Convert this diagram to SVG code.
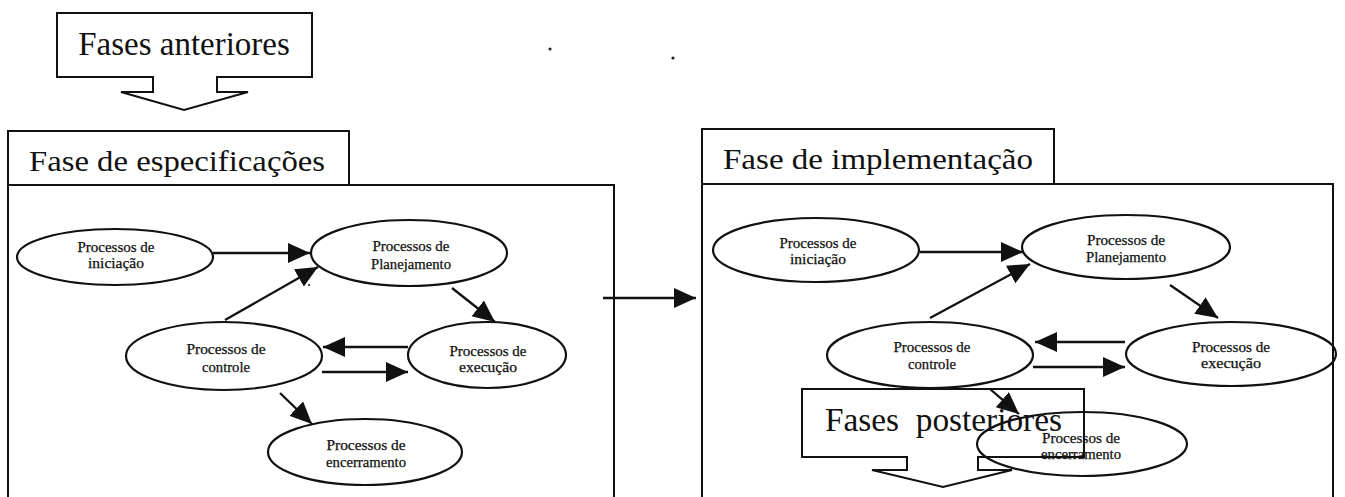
<svg xmlns="http://www.w3.org/2000/svg" width="1345" height="497" viewBox="0 0 1345 497">
  <style>
    .frame { fill: none; stroke: #111; stroke-width: 2; stroke-linejoin: miter; }
    .node ellipse { fill: none; stroke: #111; stroke-width: 2.2; }
    .lbl { font-family: "Liberation Serif", "Times New Roman", serif; font-size: 14px; fill: #111; text-anchor: middle; stroke: #111; stroke-width: 0.25; }
    .title { font-family: "Liberation Serif", "Times New Roman", serif; fill: #111; }
    .conn line { stroke: #111; stroke-width: 2.3; marker-end: url(#ah); }
  </style>
  <defs>
    <marker id="ah" markerUnits="userSpaceOnUse" markerWidth="24" markerHeight="22" refX="22" refY="10" orient="auto">
      <path d="M0,0 L22,10 L0,20 Z" fill="#111"/>
    </marker>
  </defs>

  <rect width="1345" height="497" fill="#fff"/>

  <!-- specks on the page -->
  <circle cx="550" cy="49" r="1.6" fill="#222"/>
  <circle cx="673" cy="58" r="1.6" fill="#222"/>
  <circle cx="309" cy="285" r="1.1" fill="#222"/>

  <!-- incoming block arrow -->
  <g id="fases-anteriores">
    <path class="frame" d="M153,77 L57,77 L57,13 L312,13 L312,77 L217,77 L217,92 L248,92 L184,110 L121,92 L153,92 Z"/>
    <text class="title" x="184" y="55" font-size="33" text-anchor="middle">Fases anteriores</text>
  </g>

  <!-- specification phase frame -->
  <g id="fase-especificacoes">
    <path class="frame" d="M8,497 L8,131 L349,131 L349,185"/>
    <path class="frame" d="M8,185 L614,185 L614,497"/>
    <text class="title" x="29" y="171" font-size="29" textLength="296" lengthAdjust="spacingAndGlyphs">Fase de especificações</text>
  </g>

  <!-- implementation phase frame -->
  <g id="fase-implementacao">
    <path class="frame" d="M702,497 L702,129 L1054,129 L1054,184"/>
    <path class="frame" d="M702,184 L1333,184 L1333,497"/>
    <text class="title" x="723" y="169" font-size="29" textLength="310" lengthAdjust="spacingAndGlyphs">Fase de implementação</text>
  </g>

  <!-- left process group -->
  <g id="e-iniciacao" class="node">
    <ellipse cx="115" cy="257" rx="98" ry="28"/>
    <text class="lbl" x="116" y="252" textLength="77" lengthAdjust="spacingAndGlyphs">Processos de</text>
    <text class="lbl" x="116" y="268" textLength="56" lengthAdjust="spacingAndGlyphs">iniciação</text>
  </g>
  <g id="e-planejamento" class="node">
    <ellipse cx="409" cy="253" rx="98" ry="33"/>
    <text class="lbl" x="411" y="251" textLength="77" lengthAdjust="spacingAndGlyphs">Processos de</text>
    <text class="lbl" x="411" y="269" textLength="80" lengthAdjust="spacingAndGlyphs">Planejamento</text>
  </g>
  <g id="e-controle" class="node">
    <ellipse cx="224" cy="356" rx="98" ry="34"/>
    <text class="lbl" x="226" y="354" textLength="79" lengthAdjust="spacingAndGlyphs">Processos de</text>
    <text class="lbl" x="226" y="372" textLength="48" lengthAdjust="spacingAndGlyphs">controle</text>
  </g>
  <g id="e-execucao" class="node">
    <ellipse cx="487" cy="355" rx="79" ry="33"/>
    <text class="lbl" x="488" y="356" textLength="77" lengthAdjust="spacingAndGlyphs">Processos de</text>
    <text class="lbl" x="488" y="372" textLength="58" lengthAdjust="spacingAndGlyphs">execução</text>
  </g>
  <g id="e-encerramento" class="node">
    <ellipse cx="365" cy="452" rx="97" ry="33"/>
    <text class="lbl" x="366" y="450" textLength="79" lengthAdjust="spacingAndGlyphs">Processos de</text>
    <text class="lbl" x="366" y="467" textLength="80" lengthAdjust="spacingAndGlyphs">encerramento</text>
  </g>

  <!-- right process group -->
  <g id="d-iniciacao" class="node">
    <ellipse cx="816" cy="250" rx="103" ry="32"/>
    <text class="lbl" x="818" y="248" textLength="77" lengthAdjust="spacingAndGlyphs">Processos de</text>
    <text class="lbl" x="818" y="264" textLength="56" lengthAdjust="spacingAndGlyphs">iniciação</text>
  </g>
  <g id="d-planejamento" class="node">
    <ellipse cx="1126" cy="247" rx="104" ry="32"/>
    <text class="lbl" x="1126" y="245" textLength="78" lengthAdjust="spacingAndGlyphs">Processos de</text>
    <text class="lbl" x="1126" y="262" textLength="80" lengthAdjust="spacingAndGlyphs">Planejamento</text>
  </g>
  <g id="d-controle" class="node">
    <ellipse cx="930" cy="355" rx="103" ry="33"/>
    <text class="lbl" x="932" y="352" textLength="77" lengthAdjust="spacingAndGlyphs">Processos de</text>
    <text class="lbl" x="932" y="369" textLength="48" lengthAdjust="spacingAndGlyphs">controle</text>
  </g>
  <g id="d-execucao" class="node">
    <ellipse cx="1231" cy="354" rx="105" ry="32"/>
    <text class="lbl" x="1231" y="352" textLength="78" lengthAdjust="spacingAndGlyphs">Processos de</text>
    <text class="lbl" x="1231" y="368" textLength="60" lengthAdjust="spacingAndGlyphs">execução</text>
  </g>
  <g id="d-encerramento" class="node">
    <ellipse cx="1082" cy="444" rx="105" ry="32"/>
    <text class="lbl" x="1081" y="443" textLength="78" lengthAdjust="spacingAndGlyphs">Processos de</text>
    <text class="lbl" x="1081" y="459" textLength="80" lengthAdjust="spacingAndGlyphs">encerramento</text>
  </g>

  <!-- outgoing block arrow -->
  <g id="fases-posteriores">
    <path class="frame" d="M907,457 L802,457 L802,389 L1084,389 L1084,457 L978,457 L978,470 L1012,470 L943,487 L872,470 L907,470 Z"/>
    <text class="title" x="825" y="431" font-size="33" textLength="237" lengthAdjust="spacingAndGlyphs" style="white-space:pre">Fases  posteriores</text>
  </g>

  <!-- connectors -->
  <g id="connectors" class="conn">
    <line x1="213" y1="253" x2="310" y2="253"/>
    <line x1="225" y1="320" x2="318" y2="267"/>
    <line x1="452" y1="288" x2="495" y2="322"/>
    <line x1="408" y1="347" x2="323" y2="347"/>
    <line x1="322" y1="372" x2="408" y2="372"/>
    <line x1="280" y1="393" x2="312" y2="424"/>

    <line x1="603" y1="298" x2="696" y2="298"/>

    <line x1="920" y1="252" x2="1023" y2="252"/>
    <line x1="930" y1="318" x2="1030" y2="264"/>
    <line x1="1170" y1="285" x2="1218" y2="318"/>
    <line x1="1125" y1="342" x2="1035" y2="342"/>
    <line x1="1033" y1="367" x2="1125" y2="367"/>
    <line x1="990" y1="389" x2="1019" y2="414"/>
  </g>
</svg>
